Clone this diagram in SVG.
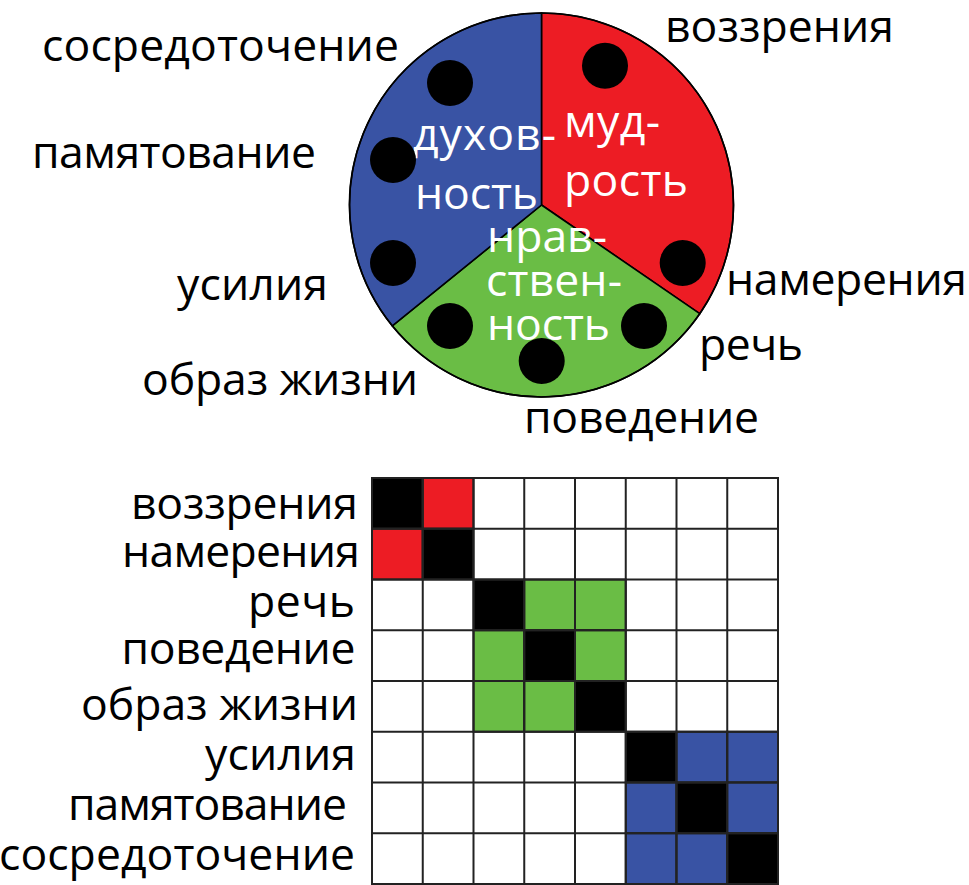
<svg xmlns="http://www.w3.org/2000/svg" width="969" height="885" viewBox="0 0 969 885">
<style>
text{font-family:"Open Sans","Noto Sans","DejaVu Sans",sans-serif;font-size:44.5px;fill:#000}
.w{fill:#fff}
.e{text-anchor:end}
.sec{stroke:#000;stroke-width:1.6}
.dot{fill:#000}
.k{fill:#000}.r{fill:#ED1C24}.g{fill:#6ABD45}.b{fill:#3953A4}
</style>
<rect width="969" height="885" fill="#fff"/>
<g id="wheel">
<path class="sec" fill="#ED1C24" d="M541.5,205 L541.5,13 A192,192 0 0 1 699.7,313.7 Z"/>
<path class="sec" fill="#6ABD45" d="M541.5,205 L699.7,313.7 A192,192 0 0 1 392.3,325.8 Z"/>
<path class="sec" fill="#3953A4" d="M541.5,205 L392.3,325.8 A192,192 0 0 1 541.5,13 Z"/>
<circle cx="541.5" cy="205" r="192" fill="none" stroke="#000" stroke-width="1.6"/>
</g>
<g id="wedge-labels">
<text class="w" x="413" y="150" textLength="143" lengthAdjust="spacing">духов-</text>
<text class="w" x="415" y="209" textLength="123" lengthAdjust="spacing">ность</text>
<text class="w" x="564" y="137" textLength="96" lengthAdjust="spacing">муд-</text>
<text class="w" x="564" y="196" textLength="124" lengthAdjust="spacing">рость</text>
<text class="w" x="487" y="252" textLength="120" lengthAdjust="spacing">нрав-</text>
<text class="w" x="486" y="296" textLength="136" lengthAdjust="spacing">ствен-</text>
<text class="w" x="487" y="340" textLength="123" lengthAdjust="spacing">ность</text>
</g>
<g id="dots">
<circle class="dot" cx="450" cy="83" r="23"/>
<circle class="dot" cx="393" cy="160" r="23"/>
<circle class="dot" cx="393" cy="263" r="23"/>
<circle class="dot" cx="450" cy="326" r="23"/>
<circle class="dot" cx="541.7" cy="361" r="23"/>
<circle class="dot" cx="644" cy="326" r="23"/>
<circle class="dot" cx="682.7" cy="263" r="23"/>
<circle class="dot" cx="605" cy="65.7" r="23"/>
</g>
<g id="wheel-labels">
<text x="42" y="61" textLength="357" lengthAdjust="spacing">сосредоточение</text>
<text x="32" y="168" textLength="284" lengthAdjust="spacing">памятование</text>
<text x="177" y="300" textLength="151" lengthAdjust="spacing">усилия</text>
<text x="142" y="395" textLength="276" lengthAdjust="spacing">образ жизни</text>
<text x="665" y="41.5" textLength="229" lengthAdjust="spacing">воззрения</text>
<text x="726" y="295" textLength="241" lengthAdjust="spacing">намерения</text>
<text x="699" y="360" textLength="104" lengthAdjust="spacing">речь</text>
<text x="524" y="433" textLength="235" lengthAdjust="spacing">поведение</text>
</g>
<g id="matrix-labels">
<text class="e" x="358" y="519" textLength="227" lengthAdjust="spacing">воззрения</text>
<text class="e" x="360" y="567" textLength="238" lengthAdjust="spacing">намерения</text>
<text class="e" x="355" y="617" textLength="107" lengthAdjust="spacing">речь</text>
<text class="e" x="355.5" y="664" textLength="234" lengthAdjust="spacing">поведение</text>
<text class="e" x="358" y="720" textLength="277" lengthAdjust="spacing">образ жизни</text>
<text class="e" x="356" y="770" textLength="151" lengthAdjust="spacing">усилия</text>
<text class="e" x="347" y="820" textLength="279" lengthAdjust="spacing">памятование</text>
<text class="e" x="355" y="870" textLength="356" lengthAdjust="spacing">сосредоточение</text>
</g>
<g id="matrix" stroke="#222" stroke-width="2">
<rect fill="#fff" x="372" y="478" width="406" height="406"/>
<rect class="k" x="372" y="478" width="50.75" height="50.75"/>
<rect class="r" x="422.75" y="478" width="50.75" height="50.75"/>
<rect class="r" x="372" y="528.75" width="50.75" height="50.75"/>
<rect class="k" x="422.75" y="528.75" width="50.75" height="50.75"/>
<rect class="k" x="473.5" y="579.5" width="50.75" height="50.75"/>
<rect class="g" x="524.25" y="579.5" width="50.75" height="50.75"/>
<rect class="g" x="575" y="579.5" width="50.75" height="50.75"/>
<rect class="g" x="473.5" y="630.25" width="50.75" height="50.75"/>
<rect class="k" x="524.25" y="630.25" width="50.75" height="50.75"/>
<rect class="g" x="575" y="630.25" width="50.75" height="50.75"/>
<rect class="g" x="473.5" y="681" width="50.75" height="50.75"/>
<rect class="g" x="524.25" y="681" width="50.75" height="50.75"/>
<rect class="k" x="575" y="681" width="50.75" height="50.75"/>
<rect class="k" x="625.75" y="731.75" width="50.75" height="50.75"/>
<rect class="b" x="676.5" y="731.75" width="50.75" height="50.75"/>
<rect class="b" x="727.25" y="731.75" width="50.75" height="50.75"/>
<rect class="b" x="625.75" y="782.5" width="50.75" height="50.75"/>
<rect class="k" x="676.5" y="782.5" width="50.75" height="50.75"/>
<rect class="b" x="727.25" y="782.5" width="50.75" height="50.75"/>
<rect class="b" x="625.75" y="833.25" width="50.75" height="50.75"/>
<rect class="b" x="676.5" y="833.25" width="50.75" height="50.75"/>
<rect class="k" x="727.25" y="833.25" width="50.75" height="50.75"/>
<path fill="none" d="M422.75,478V884M473.5,478V884M524.25,478V884M575,478V884M625.75,478V884M676.5,478V884M727.25,478V884M372,528.75H778M372,579.5H778M372,630.25H778M372,681H778M372,731.75H778M372,782.5H778M372,833.25H778"/>
</g>
</svg>
